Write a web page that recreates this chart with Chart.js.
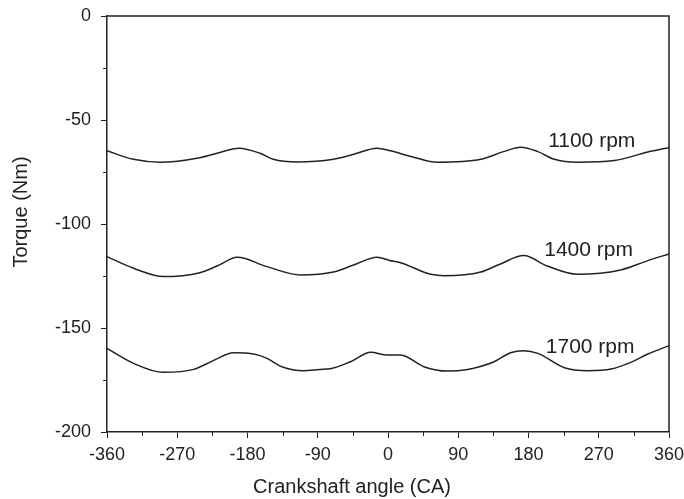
<!DOCTYPE html>
<html>
<head>
<meta charset="utf-8">
<script src="https://cdn.jsdelivr.net/npm/chart.js@4.4.1/dist/chart.umd.min.js"></script>
<style>
  html, body { margin: 0; padding: 0; background: #fff; }
  canvas { display: block; }
</style>
</head>
<body>
<canvas id="torqueChart" width="684" height="499"></canvas>
<script>
// values
const angles1100 = [-360, -326, -292, -241, -219, -191, -164, -147, -116, -70, -44, -14, 3, 33, 63, 119, 148, 170, 192, 213, 243, 290, 333, 360];
const torque1100 = [-64.8, -68.9, -70.3, -68.1, -66.0, -63.6, -66.0, -68.9, -70.2, -68.9, -66.5, -63.6, -64.8, -67.9, -70.3, -68.9, -65.2, -63.1, -65.2, -68.9, -70.3, -69.5, -65.4, -63.3];

const angles1400 = [-360, -326, -288, -241, -219, -193, -155, -112, -70, -44, -14, 2, 16, 55, 72, 119, 144, 174, 204, 243, 298, 333, 360];
const torque1400 = [-115.7, -121.3, -125.3, -123.4, -120.2, -116.0, -120.5, -124.5, -123.1, -119.7, -116.0, -117.5, -118.6, -124.2, -124.9, -123.1, -119.2, -115.2, -120.2, -124.2, -122.1, -117.6, -114.4];

const angles1700 = [-360, -326, -288, -249, -224, -198, -172, -155, -136, -108, -87, -74, -48, -22, -1, 16, 46, 76, 102, 136, 157, 174, 192, 226, 256, 286, 311, 333, 360];
const torque1700 = [-159.8, -167.0, -171.3, -169.9, -165.7, -161.9, -162.5, -164.6, -168.6, -170.5, -169.9, -169.6, -166.2, -161.7, -163.0, -163.0, -168.6, -170.7, -169.9, -166.2, -161.9, -160.9, -162.2, -169.1, -170.5, -169.7, -166.5, -162.5, -158.5];

const curveNames = ["1100 rpm", "1400 rpm", "1700 rpm"];
const labelAngles = [261, 257, 259];
const labelTorques = [-60.1, -112.7, -159.4];

const xTicks = [-360, -270, -180, -90, 0, 90, 180, 270, 360];
const yTicks = [0, -50, -100, -150, -200];

const ink = "#222";
const fontName = "'Liberation Sans', Arial, sans-serif";

function toPoints(xs, ys) {
    return xs.map((x, i) => ({ x: x, y: ys[i] }));
}

const series = [
    toPoints(angles1100, torque1100),
    toPoints(angles1400, torque1400),
    toPoints(angles1700, torque1700)
];

// box, minor ticks, axis titles and curve labels
const extras = {
    id: "extras",
    afterDraw(chart) {
        const c = chart.ctx;
        const a = chart.chartArea;
        const xs = chart.scales.x;
        const ys = chart.scales.y;
        c.save();
        c.strokeStyle = ink;
        c.lineWidth = 1.5;
        c.beginPath();
        c.moveTo(a.left, a.top);
        c.lineTo(a.right, a.top);
        c.lineTo(a.right, a.bottom);
        c.stroke();

        c.lineWidth = 1;
        c.beginPath();
        for (let v = -315; v < 360; v += 90) {
            const px = Math.round(xs.getPixelForValue(v)) + 0.5;
            c.moveTo(px, a.bottom);
            c.lineTo(px, a.bottom + 4);
        }
        for (let v = -25; v > -200; v -= 50) {
            const py = Math.round(ys.getPixelForValue(v)) + 0.5;
            c.moveTo(a.left, py);
            c.lineTo(a.left - 4, py);
        }
        c.stroke();

        c.fillStyle = ink;
        c.font = "20px " + fontName;
        c.textAlign = "center";
        c.textBaseline = "middle";
        c.fillText("Crankshaft angle (CA)", 352, 487);

        c.save();
        c.translate(21, 212);
        c.rotate(-Math.PI / 2);
        c.fillText("Torque (Nm)", 0, 0);
        c.restore();

        c.font = "21px " + fontName;
        curveNames.forEach((name, i) => {
            c.fillText(name, xs.getPixelForValue(labelAngles[i]), ys.getPixelForValue(labelTorques[i]));
        });
        c.restore();
    }
};

new Chart(document.getElementById("torqueChart"), {
    type: "line",
    data: {
        datasets: series.map((pts, i) => ({
            label: curveNames[i],
            data: pts,
            borderColor: ink,
            borderWidth: 1.5,
            pointRadius: 0,
            fill: false,
            cubicInterpolationMode: "monotone"
        }))
    },
    options: {
        responsive: false,
        animation: false,
        layout: { padding: { top: 16, right: 15, left: 0, bottom: 0 } },
        plugins: {
            legend: { display: false },
            tooltip: { enabled: false }
        },
        scales: {
            x: {
                type: "linear",
                min: -360,
                max: 360,
                afterBuildTicks: s => { s.ticks = xTicks.map(v => ({ value: v })); },
                afterFit: s => { s.height = 67; s.paddingLeft = 0; s.paddingRight = 0; },
                grid: { drawOnChartArea: false, tickLength: 6, tickColor: ink, tickWidth: 1 },
                border: { color: ink, width: 1.5 },
                ticks: {
                    color: ink,
                    padding: 6,
                    maxRotation: 0,
                    font: { family: fontName, size: 18 }
                }
            },
            y: {
                type: "linear",
                min: -200,
                max: 0,
                afterBuildTicks: s => { s.ticks = yTicks.map(v => ({ value: v })); },
                afterFit: s => { s.width = 107; s.paddingTop = 0; s.paddingBottom = 0; },
                grid: { drawOnChartArea: false, tickLength: 6, tickColor: ink, tickWidth: 1 },
                border: { color: ink, width: 1.5 },
                ticks: {
                    color: ink,
                    padding: 10,
                    font: { family: fontName, size: 18 }
                }
            }
        }
    },
    plugins: [extras]
});
</script>
</body>
</html>
